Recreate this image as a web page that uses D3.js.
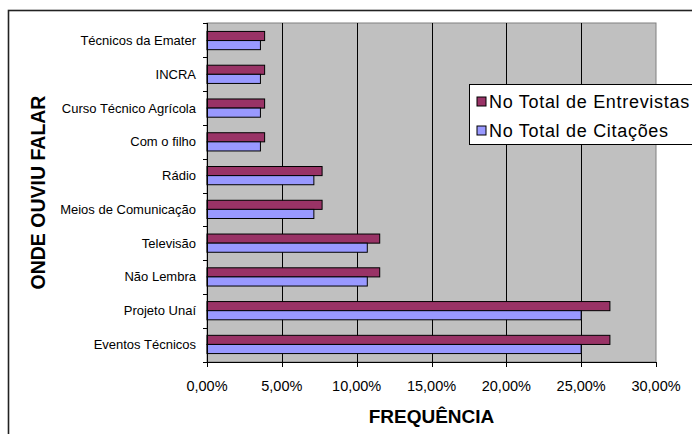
<!DOCTYPE html>
<meta charset="utf-8">
<script src="https://cdn.jsdelivr.net/npm/d3@7"></script>
<style>
body { margin: 0; background: #fff; }
svg { display: block; font-family: "Liberation Sans", Arial, sans-serif; }
.cat-label { font-size: 13px; fill: #000; }
.tick-label { font-size: 14.5px; fill: #000; }
.axis-title { font-size: 19px; font-weight: bold; fill: #000; }
.y-title { font-size: 19.5px; }
.legend-text { font-size: 18px; letter-spacing: 0.7px; fill: #000; }
</style>
<body>
<div class="chart"></div>
<script>

// categories, top to bottom as drawn
var categories = ["Técnicos da Emater", "INCRA", "Curso Técnico Agrícola", "Com o filho", "Rádio",
                  "Meios de Comunicação", "Televisão", "Não Lembra", "Projeto Unaí", "Eventos Técnicos"];
var seriesNames = ["No Total de Entrevistas", "No Total de Citações"];
// percentages
var entrevistas = [3.85, 3.85, 3.85, 3.85, 7.69, 7.69, 11.54, 11.54, 26.92, 26.92];
var citacoes = [3.57, 3.57, 3.57, 3.57, 7.14, 7.14, 10.71, 10.71, 25.00, 25.00];
var xTicks = [0, 5, 10, 15, 20, 25, 30];
var colors = ["#993366", "#9999FF"];

var W = 692, H = 434;
var plot = {left: 207, top: 23, right: 656, bottom: 362};

var svg = d3.select(".chart").append("svg")
    .attr("width", W)
    .attr("height", H);

// outer chart border (runs off the right and bottom edges)
svg.append("rect")
    .attr("x", 8.5).attr("y", 10.5)
    .attr("width", 720).attr("height", 460)
    .attr("fill", "#fff")
    .attr("stroke", "#222")
    .attr("stroke-width", 1.6);

var x = d3.scaleLinear().domain([0, 30]).range([plot.left, plot.right]);
var y = d3.scaleBand().domain(categories).range([plot.top, plot.bottom]).paddingInner(0.46).paddingOuter(0.25);
var ySub = d3.scaleBand().domain(seriesNames).range([0, y.bandwidth()]);

// plot background
svg.append("rect")
    .attr("x", plot.left).attr("y", plot.top)
    .attr("width", plot.right - plot.left).attr("height", plot.bottom - plot.top)
    .attr("fill", "#C0C0C0")
    .attr("stroke", "#808080")
    .attr("stroke-width", 1);

// vertical gridlines
svg.selectAll(".grid")
    .data(xTicks.slice(1, -1))
    .enter().append("line")
    .attr("x1", function(d) { return Math.round(x(d)) + 0.5; })
    .attr("x2", function(d) { return Math.round(x(d)) + 0.5; })
    .attr("y1", plot.top).attr("y2", plot.bottom)
    .attr("stroke", "#000").attr("stroke-width", 1);

// bars
var rows = categories.map(function(c, i) {
  return {cat: c, values: [entrevistas[i], citacoes[i]]};
});

var groups = svg.selectAll(".row")
    .data(rows)
    .enter().append("g")
    .attr("transform", function(d) { return "translate(0," + y(d.cat) + ")"; });

groups.selectAll("rect")
    .data(function(d) { return d.values.map(function(v, j) { return {name: seriesNames[j], value: v, i: j}; }); })
    .enter().append("rect")
    .attr("x", x(0))
    .attr("y", function(d) { return ySub(d.name); })
    .attr("width", function(d) { return x(d.value) - x(0); })
    .attr("height", ySub.bandwidth())
    .attr("fill", function(d) { return colors[d.i]; })
    .attr("stroke", "#000")
    .attr("stroke-width", 1);

// y axis line and ticks between categories
svg.append("line")
    .attr("x1", plot.left + 0.5).attr("x2", plot.left + 0.5)
    .attr("y1", plot.top).attr("y2", plot.bottom)
    .attr("stroke", "#000");

svg.selectAll(".ytick")
    .data(d3.range(categories.length + 1))
    .enter().append("line")
    .attr("x1", plot.left - 4).attr("x2", plot.left)
    .attr("y1", function(d) { return Math.round(plot.top + d * (plot.bottom - plot.top) / categories.length) + 0.5; })
    .attr("y2", function(d) { return Math.round(plot.top + d * (plot.bottom - plot.top) / categories.length) + 0.5; })
    .attr("stroke", "#000");

svg.selectAll(".cat-label")
    .data(categories)
    .enter().append("text")
    .attr("class", "cat-label")
    .attr("x", plot.left - 11)
    .attr("y", function(d) { return y(d) + y.bandwidth() / 2; })
    .attr("dy", "0.35em")
    .attr("text-anchor", "end")
    .text(function(d) { return d; });

// x axis
svg.append("line")
    .attr("x1", plot.left).attr("x2", plot.right)
    .attr("y1", plot.bottom + 0.5).attr("y2", plot.bottom + 0.5)
    .attr("stroke", "#000");

svg.selectAll(".xtick")
    .data(xTicks)
    .enter().append("line")
    .attr("x1", function(d) { return Math.round(x(d)) + 0.5; })
    .attr("x2", function(d) { return Math.round(x(d)) + 0.5; })
    .attr("y1", plot.bottom).attr("y2", plot.bottom + 5)
    .attr("stroke", "#000");

svg.selectAll(".tick-label")
    .data(xTicks)
    .enter().append("text")
    .attr("class", "tick-label")
    .attr("x", function(d) { return x(d); })
    .attr("y", 391)
    .attr("text-anchor", "middle")
    .text(function(d) { return d.toFixed(2).replace(".", ",") + "%"; });

// axis titles
svg.append("text")
    .attr("class", "axis-title")
    .attr("x", (plot.left + plot.right) / 2)
    .attr("y", 423)
    .attr("text-anchor", "middle")
    .text("FREQUÊNCIA");

svg.append("text")
    .attr("class", "axis-title y-title")
    .attr("transform", "translate(45," + (plot.top + plot.bottom) / 2 + ") rotate(-90)")
    .attr("text-anchor", "middle")
    .text("ONDE OUVIU FALAR");

// legend
var legend = svg.append("g").attr("transform", "translate(469,84)");
legend.append("rect")
    .attr("x", 0.5).attr("y", 0.5)
    .attr("width", 260).attr("height", 60)
    .attr("fill", "#fff")
    .attr("stroke", "#000");

var items = legend.selectAll(".item")
    .data(seriesNames)
    .enter().append("g")
    .attr("transform", function(d, i) { return "translate(8," + (13 + i * 29) + ")"; });

items.append("rect")
    .attr("width", 9).attr("height", 9)
    .attr("fill", function(d, i) { return colors[i]; })
    .attr("stroke", "#000");

items.append("text")
    .attr("class", "legend-text")
    .attr("x", 12)
    .attr("y", 5)
    .attr("dy", "0.35em")
    .text(function(d) { return d; });

</script>
</body>
</html>
